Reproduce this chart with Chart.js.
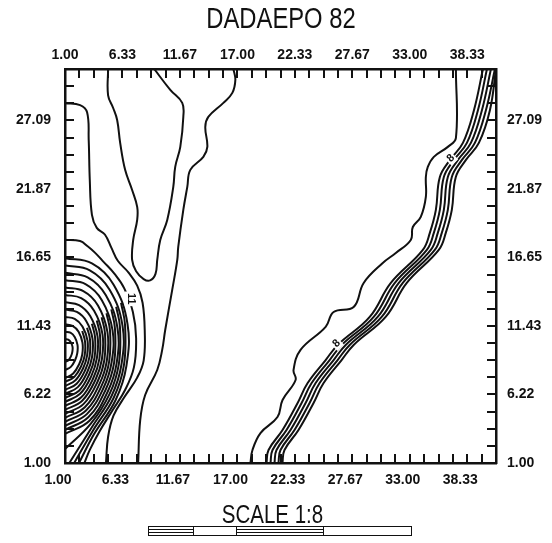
<!DOCTYPE html>
<html lang="en">
<head>
  <meta charset="UTF-8">
  <title>DADAEPO 82</title>
  <script src="https://cdn.jsdelivr.net/npm/chart.js"></script>
  <style>
    body { margin: 0; background: #fff; }
    #wrap { position: relative; width: 552px; height: 543px; }
    #title, #scale {
      position: absolute;
      font-family: 'Liberation Sans', Arial, sans-serif;
      color: #111;
      white-space: nowrap;
      transform: scaleX(0.82);
    }
    #title { left: 0; width: 562px; text-align: center; top: 4px; font-size: 29px; line-height: 29px; }
    #scale { left: 0; width: 545px; text-align: center; top: 502px; font-size: 25px; line-height: 25px; }
    #bar { position: absolute; left: 148px; top: 526px; width: 262px; height: 8px; border: 1.5px solid #111; display: flex; }
    #bar div { height: 100%; border-right: 1.5px solid #111; box-sizing: border-box; }
    #bar .h { background: repeating-linear-gradient(#fff 0 2px, #111 2px 3px); }
  </style>
</head>
<body>
  <div id="wrap">
    <canvas id="chart" width="552" height="543"></canvas>
    <div id="title">DADAEPO 82</div>
    <div id="scale">SCALE 1:8</div>
    <div id="bar">
      <div class="h" style="width:45px"></div>
      <div style="width:43px"></div>
      <div class="h" style="width:87px"></div>
      <div style="width:87px;border-right:none"></div>
    </div>
  </div>

  <script>
    // axis labels
    const xLabels = ['1.00', '6.33', '11.67', '17.00', '22.33', '27.67', '33.00', '38.33'];
    const yLabels = ['1.00', '6.22', '11.43', '16.65', '21.87', '27.09'];

    // contour lines (x, y in grid units)
    const lineA = [[1,28.4],[2.4,28.25],[3.05,27.7],[3.2,25.6],[3.3,22.55],[3.5,19.9],[3.95,18.9],[4.7,18.4],[5.3,17.4],[5.9,16.4],[6.9,15.5],[7.7,14.5],[8.2,13.2],[8.4,11.1],[8.3,8.8],[7.7,7.5],[6.5,6.0],[5.5,4.6],[5.0,3.0],[4.8,1.0]];
    const lineE = [[1,18.0],[2.4,17.9],[3.1,17.5],[3.8,17.0],[4.6,16.3],[5.6,15.4],[6.5,14.3],[7.3,12.5],[7.6,10.5],[7.4,8.3],[6.6,6.6],[5.4,5.0],[4.2,3.4],[3.3,2.0],[2.8,1.0]];
    const lineBC = [[5.0,31.0],[5.0,29.0],[5.47,28.03],[5.84,27.12],[6.12,25.37],[6.58,23.32],[7.23,21.79],[7.7,20.5],[7.7,19.51],[7.33,17.98],[7.23,16.46],[7.6,15.6],[8.3,15.0],[8.9,14.9],[9.4,15.4],[9.56,16.46],[9.84,17.98],[10.49,19.51],[11.05,22.02],[11.23,23.55],[11.7,25.07],[11.98,27.35],[11.88,28.42],[10.77,29.41],[9.28,31.0]];
    const lineD = [[16.63,31.0],[16.81,30.17],[16.53,29.18],[15.7,28.42],[14.3,27.35],[14.02,26.59],[14.21,25.07],[13.84,24.31],[12.63,23.32],[12.35,22.02],[11.98,20.27],[11.51,17.45],[11.42,16.46],[10.95,14.18],[10.3,11.13],[10.02,9.61],[9.56,8.08],[8.44,6.18],[7.98,4.27],[7.79,1.0]];

    // closed-off rings of the peak against the left edge
    const blob1 = [[1,16.6],[3.5,16.2],[5.5,14.6],[6.8,11.6],[6.7,8.4],[5.7,5.8],[3.7,3.2],[2.3,1.0]];
    const blob2 = [[1,16.04],[3.3,15.67],[5.14,14.2],[6.34,11.44],[6.24,8.5],[5.32,6.1],[3.48,3.71],[1.4,1.0]];
    const blob3 = [[1,15.48],[3.1,15.14],[4.78,13.8],[5.87,11.28],[5.79,8.59],[4.95,6.41],[3.27,4.22],[1,3.22]];
    const blob4 = [[1,14.92],[2.9,14.62],[4.42,13.4],[5.41,11.12],[5.33,8.69],[4.57,6.71],[3.05,4.74],[1,3.82]];
    const blob5 = [[1,14.36],[2.7,14.09],[4.06,13.0],[4.94,10.96],[4.88,8.78],[4.2,7.02],[2.84,5.25],[1,4.43]];
    const blob6 = [[1,13.8],[2.5,13.56],[3.7,12.6],[4.48,10.8],[4.42,8.88],[3.82,7.32],[2.62,5.76],[1,5.04]];
    const blob7 = [[1,13.24],[2.3,13.03],[3.34,12.2],[4.02,10.64],[3.96,8.98],[3.44,7.62],[2.4,6.27],[1,5.65]];
    const blob8 = [[1,12.68],[2.1,12.5],[2.98,11.8],[3.55,10.48],[3.51,9.07],[3.07,7.93],[2.19,6.78],[1,6.26]];
    const blob9 = [[1,12.12],[1.9,11.98],[2.62,11.4],[3.09,10.32],[3.05,9.17],[2.69,8.23],[1.97,7.3],[1,6.86]];
    const blob10 = [[1,11.56],[1.7,11.45],[2.26,11.0],[2.62,10.16],[2.6,9.26],[2.32,8.54],[1.76,7.81],[1,7.47]];
    const blob11 = [[1,11.0],[1.5,10.92],[1.9,10.6],[2.16,10.0],[2.14,9.36],[1.94,8.84],[1.54,8.32],[1,8.08]];
    const blob12 = [[1,10.44],[1.3,10.39],[1.54,10.2],[1.7,9.84],[1.68,9.46],[1.56,9.14],[1.32,8.83],[1,8.69]];
    // extra packed lines on the lower flank of the peak
    const flank1 = [[6.2,13.2],[6.57,11.52],[6.47,8.45],[5.51,5.95],[3.59,3.46],[1.85,1.0]];
    const flank2 = [[5.75,12.9],[6.1,11.36],[6.0,8.55],[5.14,6.26],[3.38,3.97],[1.05,2.1]];
    const flank3 = [[5.3,12.7],[5.64,11.2],[5.56,8.64],[4.76,6.56],[3.16,4.48],[1,3.52]];
    const flank4 = [[4.85,12.4],[5.18,11.04],[5.1,8.74],[4.39,6.87],[2.95,5.0],[1,4.13]];
    const flank5 = [[4.4,12.1],[4.71,10.88],[4.65,8.83],[4.01,7.17],[2.73,5.5],[1,4.74]];
    const flank6 = [[3.95,11.85],[4.25,10.72],[4.19,8.93],[3.63,7.47],[2.51,6.0],[1,5.35]];
    const flank7 = [[3.5,11.6],[3.79,10.56],[3.74,9.03],[3.26,7.78],[2.3,6.5],[1,5.96]];
    const flank8 = [[3.05,11.3],[3.32,10.4],[3.28,9.12],[2.88,8.08],[2.08,7.04],[1,6.56]];
    const flank9 = [[2.6,11.05],[2.86,10.24],[2.83,9.22],[2.51,8.39],[1.87,7.56],[1,7.17]];

    // diagonal ridge on the right
    const ridgeOuter = [[18.21,1.0],[18.4,1.99],[19.14,3.28],[20.72,4.5],[21.19,5.8],[22.4,7.32],[22.21,8.08],[22.86,9.61],[25.19,11.36],[25.93,12.5],[27.79,12.88],[28.72,14.71],[30.49,16.23],[31.7,16.99],[33.09,17.98],[33.28,18.97],[34.02,19.74],[34.49,21.26],[34.49,22.78],[34.67,23.54],[35.23,24.31],[36.53,25.07],[37.28,25.75],[37.28,31.0]];
    const ridgeY = [1.0, 1.99, 3.51, 5.57, 7.09, 8.84, 9.99, 12.12, 14.71, 17.22, 18.52, 20.27, 22.78, 24.08, 25.37, 27.88, 31.0];
    const ridge1 = [19.70, 19.89, 21.19, 22.59, 23.52, 25.19, 26.31, 29.28, 31.24, 34.21, 34.86, 35.42, 35.79, 36.73, 37.93, 38.96, 39.79];
    const ridge2 = [20.07, 20.26, 21.56, 22.96, 23.89, 25.56, 26.68, 29.65, 31.61, 34.58, 35.23, 35.79, 36.16, 37.10, 38.30, 39.33, 40.16];
    const ridge3 = [20.44, 20.63, 21.93, 23.33, 24.26, 25.93, 27.05, 30.02, 31.98, 34.95, 35.60, 36.16, 36.53, 37.47, 38.67, 39.70, 40.53];
    const ridge4 = [20.81, 21.00, 22.30, 23.70, 24.63, 26.30, 27.42, 30.39, 32.35, 35.32, 35.97, 36.53, 36.90, 37.84, 39.04, 40.07, 40.90];
    const ridge5 = [21.18, 21.37, 22.67, 24.07, 25.00, 26.67, 27.79, 30.76, 32.72, 35.69, 36.34, 36.90, 37.27, 38.21, 39.41, 40.44, 41.0];

    // contour level labels written on the lines
    const levelText = ['8', '8', '11'];
    const levelX = [26.2, 36.8, 7.1];
    const levelY = [10.1, 24.2, 13.5];

    const ridgeLines = [ridge1, ridge2, ridge3, ridge4, ridge5].map(xs => xs.map((x, i) => [x, ridgeY[i]]));
    const contours = [lineA, lineE, lineBC, lineD,
      blob1, blob2, blob3, blob4, blob5, blob6, blob7, blob8, blob9, blob10, blob11, blob12,
      flank1, flank2, flank3, flank4, flank5, flank6, flank7, flank8, flank9,
      ridgeOuter, ...ridgeLines];

    const labelFont = { family: "'Liberation Sans', Arial, sans-serif", size: 14, weight: 'bold' };

    function evenTicks(min, max, n) {
      const out = [];
      for (let i = 0; i <= n; i++) out.push({ value: min + (max - min) * i / n });
      return out;
    }

    function axis(pos, labels, min, max, n, size, pad, offset) {
      const horiz = pos === 'top' || pos === 'bottom';
      return {
        type: 'linear', position: pos, min: min, max: max,
        afterBuildTicks: s => { s.ticks = evenTicks(min, max, n); },
        afterFit: s => { if (horiz) s.height = size; else s.width = size; },
        grid: { display: false, drawTicks: false },
        border: { display: true, color: '#111', width: 2.5 },
        ticks: {
          autoSkip: false, maxRotation: 0, padding: pad, labelOffset: offset,
          color: '#111', font: labelFont,
          callback: (v, i) => i % 4 === 0 ? labels[i / 4] : ''
        }
      };
    }

    // tick marks point into the plot
    const innerTicks = {
      id: 'innerTicks',
      afterDraw(chart) {
        const { ctx, chartArea: a, scales } = chart;
        ctx.save();
        ctx.strokeStyle = '#111';
        ctx.lineWidth = 2;
        ctx.beginPath();
        ['x', 'x2', 'y', 'y2'].forEach(id => {
          const s = scales[id];
          s.ticks.forEach((t, i) => {
            if (i === 0 || i === s.ticks.length - 1) return;
            const p = Math.round(s.getPixelForValue(t.value));
            if (id === 'x') { ctx.moveTo(p, a.bottom); ctx.lineTo(p, a.bottom - 9); }
            if (id === 'x2') { ctx.moveTo(p, a.top); ctx.lineTo(p, a.top + 9); }
            if (id === 'y') { ctx.moveTo(a.left, p); ctx.lineTo(a.left + 9, p); }
            if (id === 'y2') { ctx.moveTo(a.right, p); ctx.lineTo(a.right - 9, p); }
          });
        });
        ctx.stroke();

        // level labels
        ctx.font = "bold 11px 'Liberation Sans', Arial, sans-serif";
        ctx.textAlign = 'center';
        ctx.textBaseline = 'middle';
        levelText.forEach((t, i) => {
          const px = scales.x.getPixelForValue(levelX[i]);
          const py = scales.y.getPixelForValue(levelY[i]);
          ctx.save();
          ctx.translate(px, py);
          ctx.rotate(t === '11' ? Math.PI / 2 : -Math.PI / 4);
          const w = ctx.measureText(t).width + 3;
          ctx.fillStyle = '#fff';
          ctx.fillRect(-w / 2, -6, w, 12);
          ctx.fillStyle = '#111';
          ctx.fillText(t, 0, 0);
          ctx.restore();
        });
        ctx.restore();
      }
    };

    new Chart(document.getElementById('chart'), {
      type: 'scatter',
      data: {
        datasets: contours.map(c => ({
          data: c.map(([x, y]) => ({ x, y })),
          showLine: true,
          borderColor: '#111',
          borderWidth: 2,
          pointRadius: 0,
          tension: 0.4,
          xAxisID: 'x',
          yAxisID: 'y'
        }))
      },
      options: {
        responsive: false,
        animation: false,
        layout: { padding: 0 },
        plugins: { legend: { display: false }, tooltip: { enabled: false } },
        scales: {
          x: axis('bottom', xLabels, 1, 41, 30, 80, 9, -7),
          x2: axis('top', xLabels, 1, 41, 30, 69, 5, 0),
          y: axis('left', yLabels, 1, 31, 23, 65, 14, 0),
          y2: axis('right', yLabels, 1, 31, 23, 56, 11, 0)
        }
      },
      plugins: [innerTicks]
    });
  </script>
</body>
</html>
